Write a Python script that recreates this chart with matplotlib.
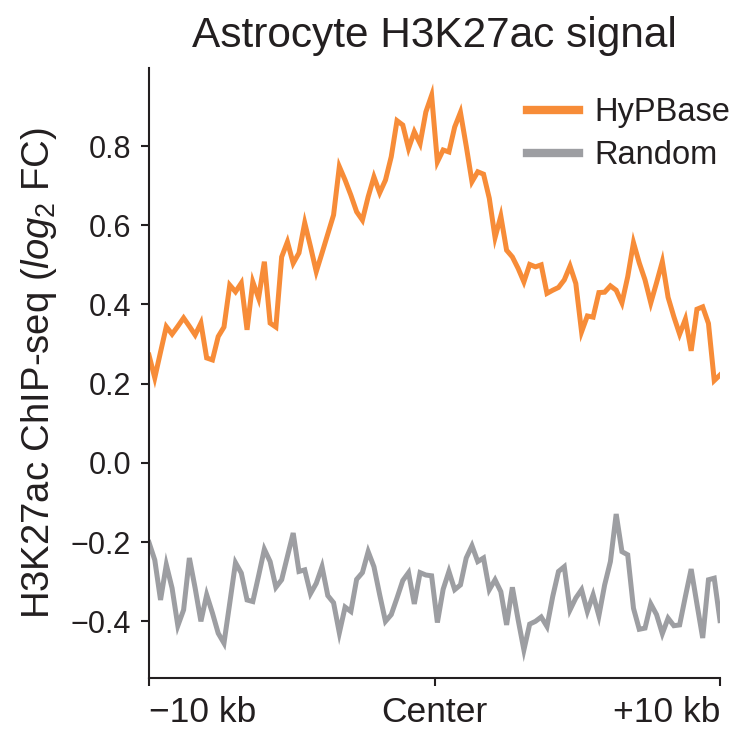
import numpy as np
import matplotlib
matplotlib.use("Agg")
from matplotlib import pyplot as plt
from matplotlib.lines import Line2D

plt.rcParams['font.family'] = ['Liberation Sans', 'DejaVu Sans']
plt.rcParams['mathtext.fontset'] = 'custom'
plt.rcParams['mathtext.rm'] = 'Liberation Sans'
plt.rcParams['mathtext.it'] = 'Liberation Sans:italic'

# 100 bins from -10 kb to +10 kb around the peak centre
n_bins = 100
hypbase = [
    0.272, 0.215, 0.280, 0.344, 0.325, 0.345, 0.366, 0.345, 0.323, 0.353,
    0.265, 0.260, 0.319, 0.343, 0.449, 0.432, 0.454, 0.336, 0.457, 0.416,
    0.508, 0.353, 0.343, 0.520, 0.558, 0.504, 0.530, 0.606, 0.546, 0.483,
    0.530, 0.578, 0.626, 0.748, 0.714, 0.676, 0.634, 0.613, 0.672, 0.722,
    0.682, 0.714, 0.773, 0.864, 0.853, 0.794, 0.836, 0.806, 0.886, 0.928,
    0.760, 0.790, 0.785, 0.848, 0.885, 0.800, 0.710, 0.735, 0.729, 0.668,
    0.569, 0.623, 0.537, 0.520, 0.491, 0.457, 0.501, 0.495, 0.500, 0.428,
    0.436, 0.443, 0.462, 0.497, 0.453, 0.331, 0.371, 0.368, 0.430, 0.431,
    0.447, 0.436, 0.404, 0.470, 0.556, 0.505, 0.462, 0.404, 0.455, 0.508,
    0.418, 0.369, 0.325, 0.363, 0.283, 0.388, 0.394, 0.352, 0.208, 0.222,
]
random_ctrl = [
    -0.201, -0.245, -0.346, -0.257, -0.316, -0.411, -0.371, -0.240, -0.316, -0.400,
    -0.333, -0.379, -0.430, -0.455, -0.354, -0.252, -0.278, -0.346, -0.350, -0.285,
    -0.218, -0.249, -0.314, -0.295, -0.236, -0.177, -0.274, -0.270, -0.330, -0.304,
    -0.262, -0.335, -0.353, -0.429, -0.364, -0.375, -0.294, -0.277, -0.224, -0.262,
    -0.333, -0.400, -0.383, -0.341, -0.297, -0.277, -0.356, -0.277, -0.283, -0.285,
    -0.403, -0.319, -0.274, -0.320, -0.308, -0.240, -0.209, -0.249, -0.240, -0.320,
    -0.295, -0.325, -0.409, -0.314, -0.396, -0.472, -0.407, -0.400, -0.389, -0.413,
    -0.337, -0.274, -0.262, -0.371, -0.341, -0.320, -0.375, -0.333, -0.386, -0.308,
    -0.249, -0.129, -0.224, -0.232, -0.367, -0.420, -0.417, -0.356, -0.383, -0.431,
    -0.392, -0.411, -0.409, -0.337, -0.268, -0.356, -0.442, -0.295, -0.291, -0.398,
]
series_names = ['HyPBase', 'Random']
xtick_pos = [-10, 0, 10]
xtick_labels = ['\u221210 kb', 'Center', '+10 kb']
ytick_pos = [-0.4, -0.2, 0.0, 0.2, 0.4, 0.6, 0.8]

orange = '#f78c38'
grey = '#9d9ea2'
ink = '#231f20'

x = np.linspace(-10, 10, n_bins)

fig = plt.figure(figsize=(7.30, 7.31), dpi=100)
ax = fig.add_axes([149 / 730, 1 - 678 / 731, (720 - 149) / 730, (678 - 68) / 731])

ax.plot(x, hypbase, color=orange, lw=3.6, solid_joinstyle='miter')
ax.plot(x, random_ctrl, color=grey, lw=3.6, solid_joinstyle='miter')

ax.set_xlim(-10, 10)
ax.set_ylim(-0.543, 0.997)

for side in ('top', 'right'):
    ax.spines[side].set_visible(False)
for side in ('left', 'bottom'):
    ax.spines[side].set_color(ink)
    ax.spines[side].set_linewidth(1.5)

ax.set_xticks(xtick_pos)
ax.set_xticklabels(xtick_labels)
# end labels sit inside the axis span, as in the original
xlabels = ax.get_xticklabels()
xlabels[0].set_ha('left')
xlabels[-1].set_ha('right')

ax.set_yticks(ytick_pos)
ax.set_yticklabels(['%.1f' % v if v >= 0 else '\u2212%.1f' % -v
                    for v in ytick_pos])
ax.tick_params(axis='both', direction='out', length=6, width=1.5,
               color=ink, labelcolor=ink)
ax.tick_params(axis='x', labelsize=25.5, pad=7)
ax.tick_params(axis='y', labelsize=22, pad=7)

ax.set_ylabel(r'H3K27ac ChIP-seq ($\mathit{log}_\mathrm{2}$ FC)',
              fontsize=27.5, color=ink, labelpad=8)
ax.set_title('Astrocyte H3K27ac signal', fontsize=30.5, color=ink, pad=15)

handles = [Line2D([], [], color=orange, lw=6),
           Line2D([], [], color=grey, lw=6)]
fig.legend(handles, series_names, loc='upper left',
           bbox_to_anchor=(527 / 730, 1 - 97 / 731), frameon=False,
           fontsize=23.5, handlelength=1.6, handletextpad=0.45,
           labelspacing=0.38, borderpad=0, borderaxespad=0,
           labelcolor=ink)

fig.savefig('out.png', dpi=100)
